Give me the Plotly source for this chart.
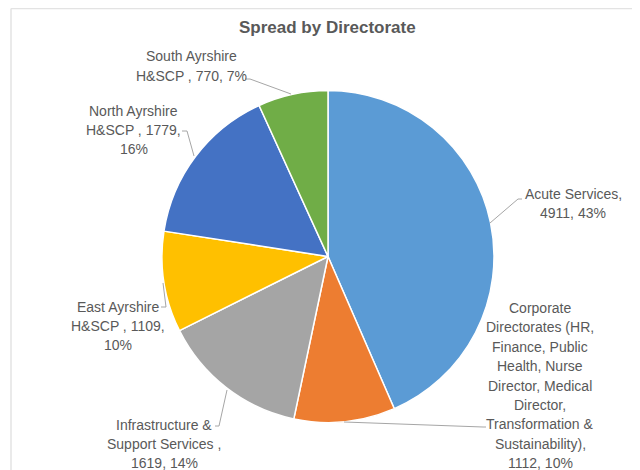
import textwrap
import plotly.graph_objects as go

# ---- data ----
title = "Spread by Directorate"
categories = [
    "Acute Services",
    "Corporate Directorates (HR, Finance, Public Health, Nurse Director, Medical Director, Transformation & Sustainability)",
    "Infrastructure & Support Services ",
    "East Ayrshire H&SCP ",
    "North Ayrshire H&SCP ",
    "South Ayrshire H&SCP ",
]
values = [4911, 1112, 1619, 1109, 1779, 770]
colors = ["#5B9BD5", "#ED7D31", "#A5A5A5", "#FFC000", "#4472C4", "#70AD47"]

# ---- layout helpers ----
# the page body has an 8px default margin, so the figure is drawn 8px in
OFF = 8
W, H = 640 - OFF, 470 - OFF
def px(x):
    return (x - OFF) / W
def py(y):
    return 1 - (y - OFF) / H

CX, CY, R = 328, 256.5, 166
LINE_H = 19.4

# label placement (pixel centres), wrap widths and leader paths (pixels)
label_pos = [(573, 203.5), (540, 385.5), (164, 444), (118, 326), (133.5, 130), (191.5, 66)]
wrap_width = [15, 18, 18, 13, 14, 15]
leaders = [
    [(490, 223), (518, 199), (522, 199)],
    [(344, 422), (483, 427), (486, 427)],
    [(227, 390), (219, 426), (215, 426)],
    [(163, 283), (166, 307), (161, 307)],
    [(194, 156), (187, 131), (182, 131)],
    [(291, 94), (250, 79), (245, 79)],
]

total = sum(values)
fig = go.Figure()
fig.add_trace(go.Pie(
    labels=categories,
    values=values,
    sort=False,
    direction="clockwise",
    rotation=0,
    marker=dict(colors=colors, line=dict(color="white", width=1.5)),
    textinfo="none",
    hoverinfo="label+value+percent",
    showlegend=False,
    domain=dict(x=[px(CX - R), px(CX + R)], y=[py(CY + R), py(CY - R)]),
))

annotations = [dict(
    text=title, x=px(327), y=py(28), xref="paper", yref="paper",
    xanchor="center", yanchor="middle", showarrow=False,
    font=dict(family="Liberation Sans", size=17, color="#595959", weight=600),
)]
shapes = []
for i, (cat, v) in enumerate(zip(categories, values)):
    pct = round(100 * v / total)
    txt = f"{cat}, {v}, {pct}%"
    lines = textwrap.wrap(txt, wrap_width[i])
    lx, ly = label_pos[i]
    n = len(lines)
    for j, line in enumerate(lines):
        yy = ly + (j - (n - 1) / 2) * LINE_H
        annotations.append(dict(
            text=line, x=px(lx), y=py(yy), xref="paper", yref="paper",
            xanchor="center", yanchor="middle", align="center", showarrow=False,
            font=dict(family="Liberation Sans", size=14, color="#595959"),
        ))
    pts = leaders[i]
    path = "M " + " L ".join(f"{px(x)},{py(y)}" for x, y in pts)
    shapes.append(dict(type="path", path=path, xref="paper", yref="paper",
                       line=dict(color="#A6A6A6", width=1)))

# chart-area border (top & left edges visible)
shapes.append(dict(type="line", xref="paper", yref="paper",
                   x0=px(11), y0=py(8.5), x1=1.02, y1=py(8.5),
                   line=dict(color="#E3E3E3", width=1.5)))
shapes.append(dict(type="line", xref="paper", yref="paper",
                   x0=px(11), y0=py(8.5), x1=px(11), y1=-0.02,
                   line=dict(color="#E3E3E3", width=1.5)))

fig.update_layout(
    width=W, height=H,
    margin=dict(l=0, r=0, t=0, b=0),
    paper_bgcolor="white", plot_bgcolor="white",
    annotations=annotations, shapes=shapes,
)
fig.write_html("out.html")
